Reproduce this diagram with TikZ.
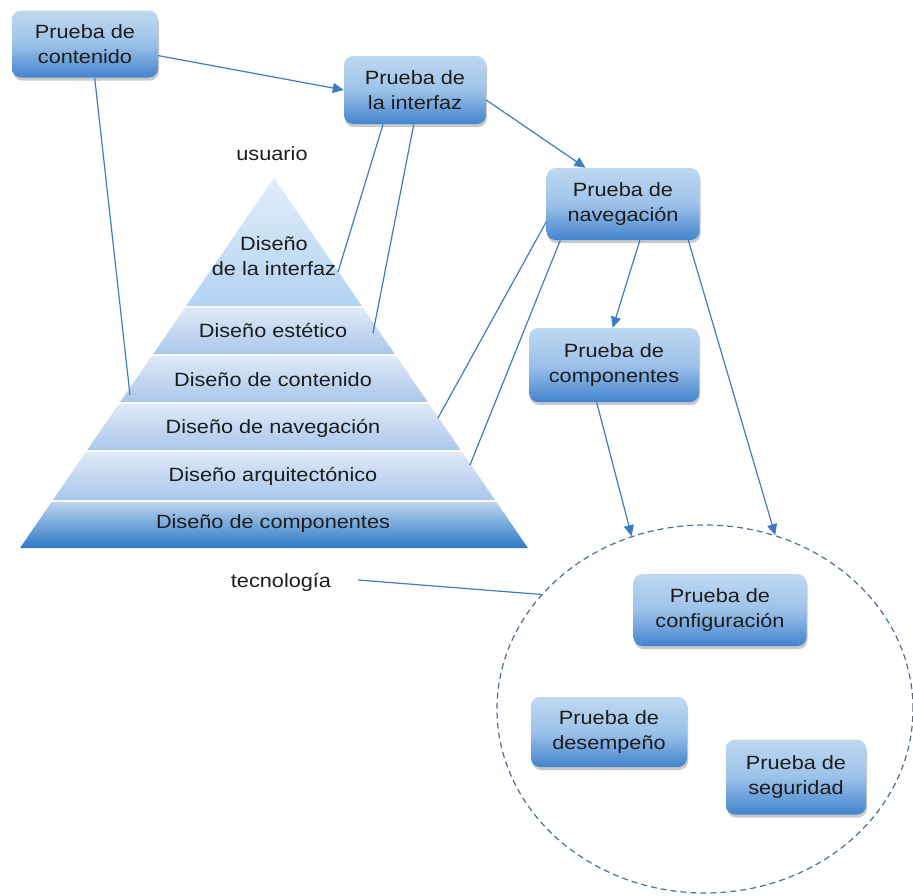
\documentclass[tikz,border=0pt]{standalone}
\usepackage{fontspec}
\setmainfont{Liberation Sans}[FakeStretch=1.13]
\usetikzlibrary{shapes.geometric,shadows,arrows.meta,calc}
\definecolor{lineblue}{HTML}{3D7CC2}
\definecolor{boxtop}{HTML}{BFD8F0}
\definecolor{boxmid}{HTML}{9CC2EA}
\definecolor{boxbot}{HTML}{4283CD}
\definecolor{txt}{HTML}{1C1C1C}
\definecolor{laytop}{HTML}{E0E9F7}
\definecolor{laybot}{HTML}{AAC6EC}
\definecolor{tritop}{HTML}{E0EDFA}
\definecolor{tribot}{HTML}{B3D3F3}
\definecolor{basetop}{HTML}{BAD4EE}
\definecolor{basebot}{HTML}{2E7AC6}
\definecolor{dashc}{HTML}{4D6E96}
\tikzset{
  box/.style={rectangle, rounded corners=9pt, top color=boxtop, bottom color=boxbot, middle color=boxmid,
    draw=none, align=center, inner sep=0pt, text=txt,
    drop shadow={shadow xshift=1pt, shadow yshift=-3pt, opacity=0.3, fill=black!70}},
  lbl/.style={text=txt, align=center, inner sep=0pt},
  conn/.style={draw=lineblue, line width=1.2pt},
  arr/.style={conn, -{Triangle[length=11pt,width=10pt]}},
}
\begin{document}
\begin{tikzpicture}[x=1pt, y=-1pt, font=\fontsize{19.2}{25}\selectfont]
\useasboundingbox (0,0) rectangle (913,895);

% pyramid
\shade[top color=tritop, bottom color=tribot] (274,178) -- (361.9,306) -- (186.1,306) -- cycle;
\shade[top color=laytop, bottom color=laybot] (184.8,308) -- (363.2,308) -- (394.8,354) -- (153.2,354) -- cycle;
\shade[top color=laytop, bottom color=laybot] (151.8,356) -- (396.2,356) -- (427.8,402) -- (120.2,402) -- cycle;
\shade[top color=laytop, bottom color=laybot] (118.9,404) -- (429.1,404) -- (460.7,450) -- (87.3,450) -- cycle;
\shade[top color=laytop, bottom color=laybot] (85.9,452) -- (462.1,452) -- (495.1,500) -- (52.9,500) -- cycle;
\shade[top color=basetop, bottom color=basebot] (51.6,502) -- (496.4,502) -- (528,548) -- (20,548) -- cycle;

\node[lbl] (l1) at (274,256) {Diseño\\de la interfaz};
\node[lbl] (l2) at (273,331) {Diseño estético};
\node[lbl] (l3) at (273,380) {Diseño de contenido};
\node[lbl] (l4) at (273,428) {Diseño de navegación};
\node[lbl] (l5) at (273,476) {Diseño arquitectónico};
\node[lbl] (l6) at (273,524) {Diseño de componentes};

\node[lbl] (usr) at (272,154) {usuario};
\node[lbl] (tec) at (281,582) {tecnología};

% ellipse
\node[ellipse, draw=dashc, dash pattern=on 6pt off 4pt, line width=1.2pt,
      minimum width=416pt, minimum height=368pt, inner sep=0pt] (ell) at (705,709) {};

% boxes
\node[box, minimum width=146pt, minimum height=67pt] (cont) at (85,44) {Prueba de\\contenido};
\node[box, minimum width=142pt, minimum height=68pt] (int) at (415,90) {Prueba de\\la interfaz};
\node[box, minimum width=153pt, minimum height=72pt] (nav) at (623,204) {Prueba de\\navegación};
\node[box, minimum width=170pt, minimum height=74pt] (comp) at (614,365) {Prueba de\\componentes};
\node[box, minimum width=173pt, minimum height=72pt] (conf) at (720,610) {Prueba de\\configuración};
\node[box, minimum width=156pt, minimum height=70pt] (des) at (609,732) {Prueba de\\desempeño};
\node[box, minimum width=140pt, minimum height=75pt] (seg) at (796,777) {Prueba de\\seguridad};

% free-end coordinates on the pyramid
\coordinate (pc) at (130,395);
\coordinate (pi) at (338,272);
\coordinate (pe) at (373,333);
\coordinate (pn) at (438,418);
\coordinate (pa) at (470,465);
\coordinate (ts) at (358,580);

% connectors
\draw[arr] (cont.-9) -- (int.west);
\draw[arr] (int.-8) -- (nav.136);
\draw[arr] (nav.-65) -- (comp.92);
\draw[arr] (comp.-115) -- (ell.113);
\draw[arr] (nav.-29) -- (ell.68);

\draw[conn] (cont.-74) -- (pc);
\draw[conn] (int.-133) -- (pi);
\draw[conn] (int.-92) -- (pe);
\draw[conn] (nav.-167) -- (pn);
\draw[conn] (nav.-150) -- (pa);
\draw[conn] (ts) -- (ell.145);
\end{tikzpicture}
\end{document}
